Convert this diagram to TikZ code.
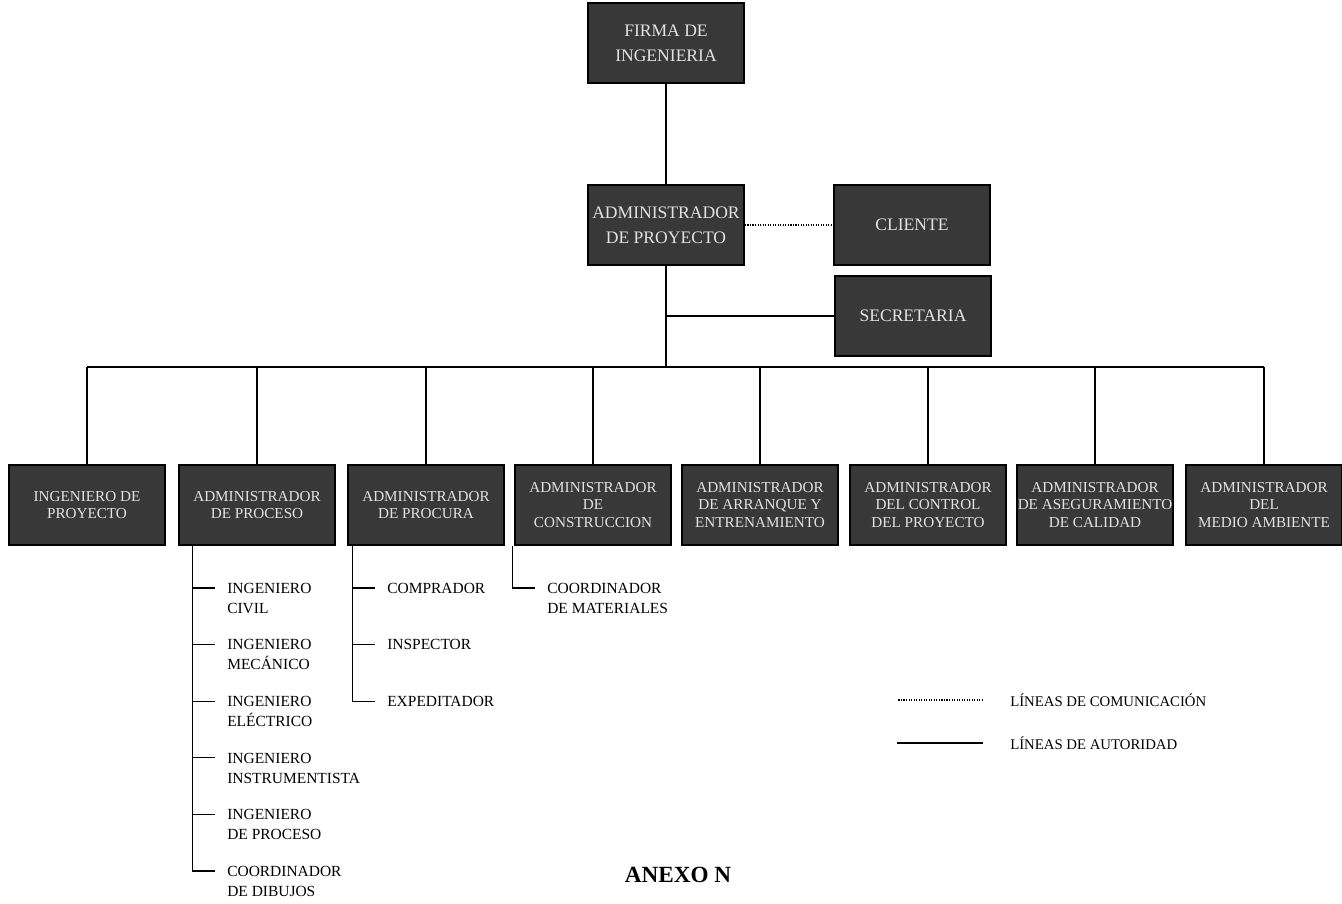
\documentclass[tikz,border=0pt]{standalone}
\usepackage{fontspec}
\setmainfont{Liberation Serif}
\usepackage{xcolor}
\usepackage{tikz}
\usetikzlibrary{positioning}
\definecolor{boxfill}{HTML}{383838}
\definecolor{boxtext}{HTML}{E2E2E2}

\begin{document}
\begin{tikzpicture}[
  every node/.style={align=center},
  unit/.style={rectangle, draw=black, line width=1.2pt, fill=boxfill, text=boxtext,
               minimum width=3.9cm, minimum height=2cm, inner xsep=0pt, inner ysep=2pt,
               font=\fontsize{10.8}{12.5}\selectfont},
  head/.style={unit, font=\fontsize{12.5}{18}\selectfont},
  item/.style={align=left, inner sep=0pt, anchor=north west,
               font=\fontsize{11}{14.2}\selectfont},
  legend/.style={align=left, inner sep=0pt, anchor=west,
                 font=\fontsize{10.5}{12}\selectfont},
  auth/.style={line width=0.8pt},
  comm/.style={line width=0.8pt, densely dotted}
]
  \useasboundingbox (0,0) rectangle (33.55,-22.575);

  \node[head] (firma) at (16.65,-1.075) {FIRMA DE\\INGENIERIA};
  \node[head] (adm) at (16.65,-5.625) {ADMINISTRADOR\\DE PROYECTO};
  \node[head] (cli) at (22.8,-5.625) {CLIENTE};
  \node[head] (sec) at (22.825,-7.9) {SECRETARIA};

  \node[unit] (ing) at (2.175,-12.625) {INGENIERO DE\\PROYECTO};
  \node[unit] (proc) at (6.425,-12.625) {ADMINISTRADOR\\DE PROCESO};
  \node[unit] (procu) at (10.65,-12.625) {ADMINISTRADOR\\DE PROCURA};
  \node[unit] (cons) at (14.825,-12.625) {ADMINISTRADOR\\DE\\CONSTRUCCION};
  \node[unit] (arr) at (19.0,-12.625) {ADMINISTRADOR\\DE ARRANQUE Y\\ENTRENAMIENTO};
  \node[unit] (ctrl) at (23.2,-12.625) {ADMINISTRADOR\\DEL CONTROL\\DEL PROYECTO};
  \node[unit] (cal) at (27.375,-12.625) {ADMINISTRADOR\\DE ASEGURAMIENTO\\DE CALIDAD};
  \node[unit] (amb) at (31.6,-12.625) {ADMINISTRADOR\\DEL\\MEDIO AMBIENTE};

  \coordinate (bus) at (0,-9.175);
  \draw[auth] (firma) -- (adm);
  \draw[comm] (adm.east) -- (cli.west);
  \draw[auth] (adm.south) -- (adm.south |- bus);
  \draw[auth] (adm.south |- sec.west) -- (sec.west);
  \draw[auth] (ing.north |- bus) -- (amb.north |- bus);
  \foreach \n in {ing,proc,procu,cons,arr,ctrl,cal,amb}
    \draw[auth] (\n.north |- bus) -- (\n.north);

  \coordinate (psp) at ([xshift=3.5mm]proc.south west);
  \coordinate (pk1) at (5.375,-14.7);
  \coordinate (pk2) at (5.375,-16.115);
  \coordinate (pk3) at (5.375,-17.53);
  \coordinate (pk4) at (5.375,-18.945);
  \coordinate (pk5) at (5.375,-20.36);
  \coordinate (pk6) at (5.375,-21.775);
  \node[item] (p1) at ([xshift=3mm,yshift=1.3mm]pk1) {INGENIERO\\CIVIL};
  \node[item] (p2) at ([xshift=3mm,yshift=1.3mm]pk2) {INGENIERO\\MECÁNICO};
  \node[item] (p3) at ([xshift=3mm,yshift=1.3mm]pk3) {INGENIERO\\ELÉCTRICO};
  \node[item] (p4) at ([xshift=3mm,yshift=1.3mm]pk4) {INGENIERO\\INSTRUMENTISTA};
  \node[item] (p5) at ([xshift=3mm,yshift=1.3mm]pk5) {INGENIERO\\DE PROCESO};
  \node[item] (p6) at ([xshift=3mm,yshift=1.3mm]pk6) {COORDINADOR\\DE DIBUJOS};
  \draw[auth] (psp) |- (pk6);
  \foreach \i in {1,...,5}
    \draw[auth] (psp |- pk\i) -- (pk\i);

  \coordinate (csp) at ([xshift=1.25mm]procu.south west);
  \coordinate (ck1) at (9.375,-14.7);
  \coordinate (ck2) at (9.375,-16.115);
  \coordinate (ck3) at (9.375,-17.53);
  \node[item] (c1) at ([xshift=3mm,yshift=1.3mm]ck1) {COMPRADOR};
  \node[item] (c2) at ([xshift=3mm,yshift=1.3mm]ck2) {INSPECTOR};
  \node[item] (c3) at ([xshift=3mm,yshift=1.3mm]ck3) {EXPEDITADOR};
  \draw[auth] (csp) |- (ck3);
  \foreach \i in {1,2}
    \draw[auth] (csp |- ck\i) -- (ck\i);

  \coordinate (msp) at ([xshift=-0.5mm]cons.south west);
  \coordinate (mk1) at (13.375,-14.7);
  \node[item] (m1) at ([xshift=3mm,yshift=1.3mm]mk1) {COORDINADOR\\DE MATERIALES};
  \draw[auth] (msp) |- (mk1);

  \node[legend] (lcom) at (25.25,-17.5) {LÍNEAS DE COMUNICACIÓN};
  \node[legend] (laut) at (25.25,-18.575) {LÍNEAS DE AUTORIDAD};
  \draw[comm] ([xshift=-6.75mm]lcom.west) -- ++(-2.15,0);
  \draw[auth] ([xshift=-6.75mm]laut.west) -- ++(-2.15,0);

  \node[font=\fontsize{16.5}{18}\selectfont\bfseries] (anexo) at (16.95,-21.875) {ANEXO N};
\end{tikzpicture}
\end{document}
